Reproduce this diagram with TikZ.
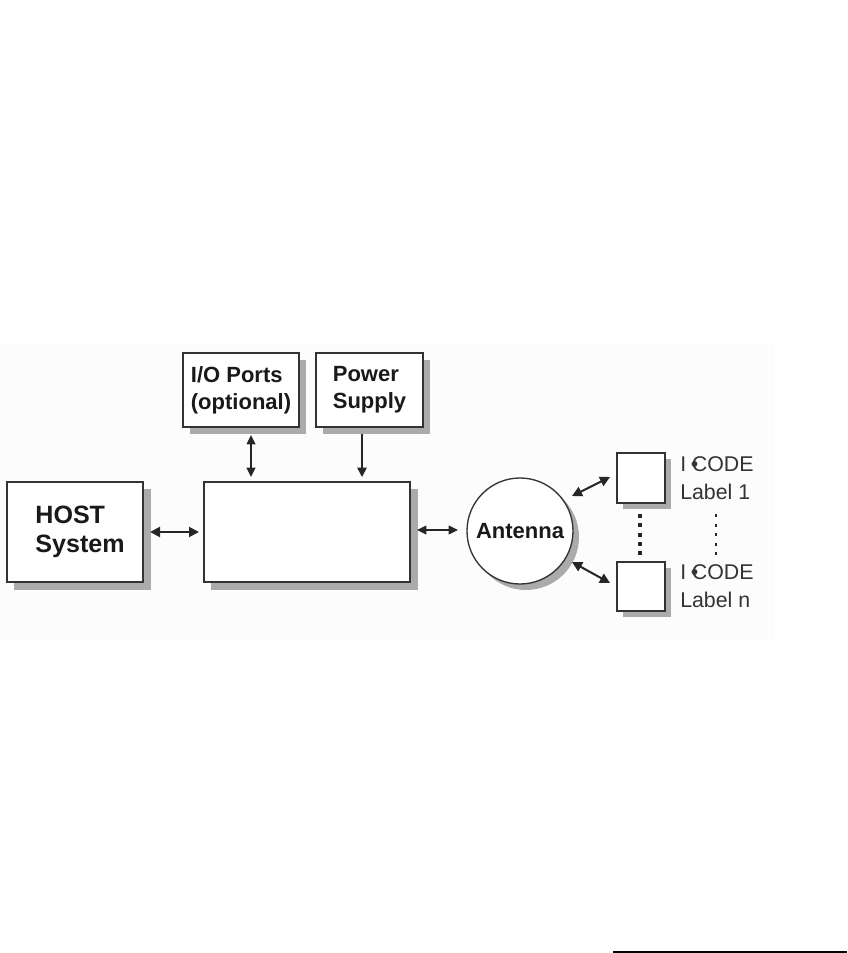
\documentclass[tikz,border=0pt]{standalone}
\usepackage{fontspec}
\setmainfont{Liberation Sans}
\usetikzlibrary{arrows.meta}
\begin{document}
\begin{tikzpicture}[x=0.75pt,y=-0.75pt,
  box/.style={draw=black!80,line width=1.1pt,fill=white},
  shadowbox/.style={fill=black!33,draw=none},
  conn/.style={line width=1.5pt,black!85,{Triangle[length=7.5pt,width=7.5pt]}-{Triangle[length=7.5pt,width=7.5pt]}},
  thinconn/.style={line width=1.1pt,black!85,{Triangle[length=7pt,width=6.5pt]}-{Triangle[length=7pt,width=6.5pt]}},
  oneway/.style={line width=1.3pt,black!85,-{Triangle[length=7pt,width=7pt]}},
  bigtxt/.style={font=\bfseries\fontsize{18.8}{22}\selectfont,align=left,text=black!90},
  midtxt/.style={font=\bfseries\fontsize{16.5}{20}\selectfont,align=left,text=black!90},
  lbltxt/.style={font=\fontsize{16}{22}\selectfont,align=left,text=black!80,anchor=west,inner sep=0pt}]
\useasboundingbox (0,0) rectangle (847,953);
% faint background panel
\fill[black!1] (0,343) rectangle (775,640);
% shadows
\fill[shadowbox] (190,360) rectangle (306,434);
\fill[shadowbox] (323,360) rectangle (430,434);
\fill[shadowbox] (14,489) rectangle (151,590);
\fill[shadowbox] (211,489) rectangle (418,590);
\fill[shadowbox] (526,537) circle (53);
\fill[shadowbox] (623,459) rectangle (671,509);
\fill[shadowbox] (623,568) rectangle (671,617);
% boxes
\node[box,minimum width=116*0.75pt,minimum height=74*0.75pt,inner sep=0pt] (io) at (241,390) {};
\node[midtxt] at (io.center) {I/O Ports\\(optional)};
\node[box,minimum width=107*0.75pt,minimum height=74*0.75pt,inner sep=0pt] (ps) at (369.5,390) {};
\node[midtxt] at (ps.center) {Power\\Supply};
\node[box,minimum width=136*0.75pt,minimum height=100*0.75pt,inner sep=0pt] (host) at (75,532) {};
\node[bigtxt] at ([xshift=3.75pt]host.center) {HOST\\System};
\node[box,minimum width=206*0.75pt,minimum height=100*0.75pt,inner sep=0pt] (main) at (307,532) {};
\node[box,circle,minimum size=106*0.75pt,inner sep=0pt,line width=1pt] (ant) at (520,531) {};
\node[midtxt] at (ant.center) {Antenna};
\node[box,minimum width=48*0.75pt,minimum height=50*0.75pt,inner sep=0pt] (l1) at (641,478) {};
\node[box,minimum width=48*0.75pt,minimum height=49*0.75pt,inner sep=0pt] (ln) at (641,586.5) {};
% label texts
\node[lbltxt] (t1a) at (680,464) {I\kern0.22em\textbullet\kern-0.3em CODE};
\node[lbltxt] (t1b) at (680,492) {Label 1};
\node[lbltxt] (tna) at (680,572) {I\kern0.22em\textbullet\kern-0.3em CODE};
\node[lbltxt] (tnb) at (680,600) {Label n};
% connectors
\coordinate (ioa) at (251,435);
\coordinate (iob) at (251,477);
\draw[thinconn] (ioa) -- (iob);
\coordinate (psa) at (362,434);
\coordinate (psb) at (362,477);
\draw[oneway] (psa) -- (psb);
\coordinate (hm1) at (150,532);
\coordinate (hm2) at (199,532);
\draw[conn] (hm1) -- (hm2);
\coordinate (ma1) at (417,530);
\coordinate (ma2) at (458,530);
\draw[thinconn] (ma1) -- (ma2);
\coordinate (a1) at (572,496);
\coordinate (a1b) at (610,477);
\draw[conn] (a1) -- (a1b);
\coordinate (a2) at (572,562);
\coordinate (a2b) at (610,583);
\draw[conn] (a2) -- (a2b);
% dotted lines
\coordinate (d1a) at (640,514);
\coordinate (d1b) at (640,556);
\draw[line width=2.8pt,black!85,dash pattern=on 3pt off 4pt] (d1a) -- (d1b);
\coordinate (d2a) at (716,514);
\coordinate (d2b) at (716,556);
\draw[line width=2.2pt,black!85,dash pattern=on 2.2pt off 5pt] (d2a) -- (d2b);
% bottom rule
\coordinate (r1) at (613,952);
\coordinate (r2) at (847,952);
\draw[line width=1.1pt] (r1) -- (r2);
\end{tikzpicture}
\end{document}
